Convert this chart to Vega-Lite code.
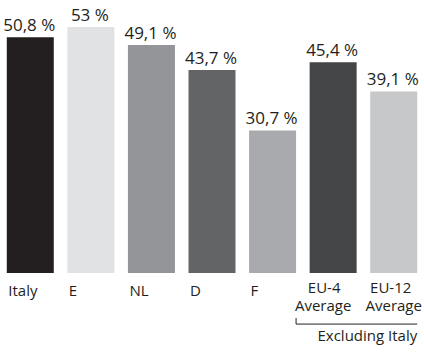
{
  "$schema": "https://vega.github.io/schema/vega-lite/v6.json",
  "width": 424,
  "height": 273,
  "autosize": "none",
  "padding": {"left": 0, "top": 0, "right": 0, "bottom": 79},
  "config": {
    "view": {"stroke": null},
    "font": "Open Sans",
    "text": {"color": "#231f20"}
  },
  "layer": [
    {
      "data": {
        "values": [
          {"region": "Italy", "share": 50.8, "shade": "#231f20"},
          {"region": "E", "share": 53.0, "shade": "#e1e2e3"},
          {"region": "NL", "share": 49.1, "shade": "#939598"},
          {"region": "D", "share": 43.7, "shade": "#636466"},
          {"region": "F", "share": 30.7, "shade": "#a8aaad"},
          {"region": "EU-4 Average", "share": 45.4, "shade": "#444547"},
          {"region": "EU-12 Average", "share": 39.1, "shade": "#c7c8ca"}
        ]
      },
      "transform": [
        {"calculate": "replace(format(datum.share, '.1~f'), '.', ',') + ' %'", "as": "shareText"}
      ],
      "encoding": {
        "x": {
          "field": "region",
          "type": "nominal",
          "sort": null,
          "scale": {"paddingInner": 0.224, "paddingOuter": 0.112},
          "axis": {
            "title": null,
            "domain": false,
            "ticks": false,
            "labelAngle": 0,
            "labelFont": "Open Sans",
            "labelFontSize": 15,
            "labelColor": "#231f20",
            "labelPadding": {"condition": {"test": "indexof(datum.value, 'Average') >= 0", "value": 7}, "value": 10},
            "labelBaseline": "top",
            "labelOverlap": false,
            "labelExpr": "split(datum.label, ' ')[0]",
            "labelAlign": {"condition": {"test": "indexof(datum.value, 'Average') >= 0", "value": "center"}, "value": "left"},
            "labelOffset": {
              "condition": [
                {"test": "datum.value == 'EU-4 Average'", "value": -9},
                {"test": "datum.value == 'EU-12 Average'", "value": -3}
              ],
              "value": -22
            }
          }
        },
        "y": {
          "field": "share",
          "type": "quantitative",
          "scale": {"domain": [0, 58.8], "nice": false},
          "axis": null
        }
      },
      "layer": [
        {
          "mark": {"type": "bar"},
          "encoding": {"color": {"field": "shade", "type": "nominal", "scale": null}}
        },
        {
          "mark": {"type": "text", "baseline": "alphabetic", "align": "center", "dy": -6, "dx": -1, "fontSize": 17},
          "encoding": {"text": {"field": "shareText"}}
        },
        {
          "transform": [
            {"filter": "indexof(datum.region, ' ') > 0"},
            {"calculate": "split(datum.region, ' ')[1]", "as": "secondLine"}
          ],
          "mark": {
            "type": "text",
            "baseline": "alphabetic",
            "align": "center",
            "fontSize": 15,
            "dx": {"expr": "datum.region == 'EU-4 Average' ? -10 : 0"}
          },
          "encoding": {
            "y": {"datum": -8.1, "type": "quantitative"},
            "text": {"field": "secondLine"}
          }
        }
      ]
    },
    {
      "data": {"values": [{"note": "Excluding Italy"}]},
      "layer": [
        {
          "mark": {"type": "rule", "color": "#231f20", "strokeWidth": 1},
          "encoding": {
            "x": {"datum": "F", "type": "nominal", "bandPosition": 1},
            "x2": {"datum": "EU-12 Average", "bandPosition": 1},
            "y": {"datum": -11.0, "type": "quantitative"}
          }
        },
        {
          "mark": {"type": "rule", "color": "#231f20", "strokeWidth": 1},
          "encoding": {
            "x": {"datum": "F", "type": "nominal", "bandPosition": 1},
            "y": {"datum": -9.7, "type": "quantitative"},
            "y2": {"datum": -11.0}
          }
        },
        {
          "mark": {"type": "text", "align": "right", "baseline": "alphabetic", "fontSize": 15},
          "encoding": {
            "x": {"datum": "EU-12 Average", "type": "nominal", "bandPosition": 1},
            "y": {"datum": -14.6, "type": "quantitative"},
            "text": {"field": "note"}
          }
        }
      ]
    }
  ]
}
